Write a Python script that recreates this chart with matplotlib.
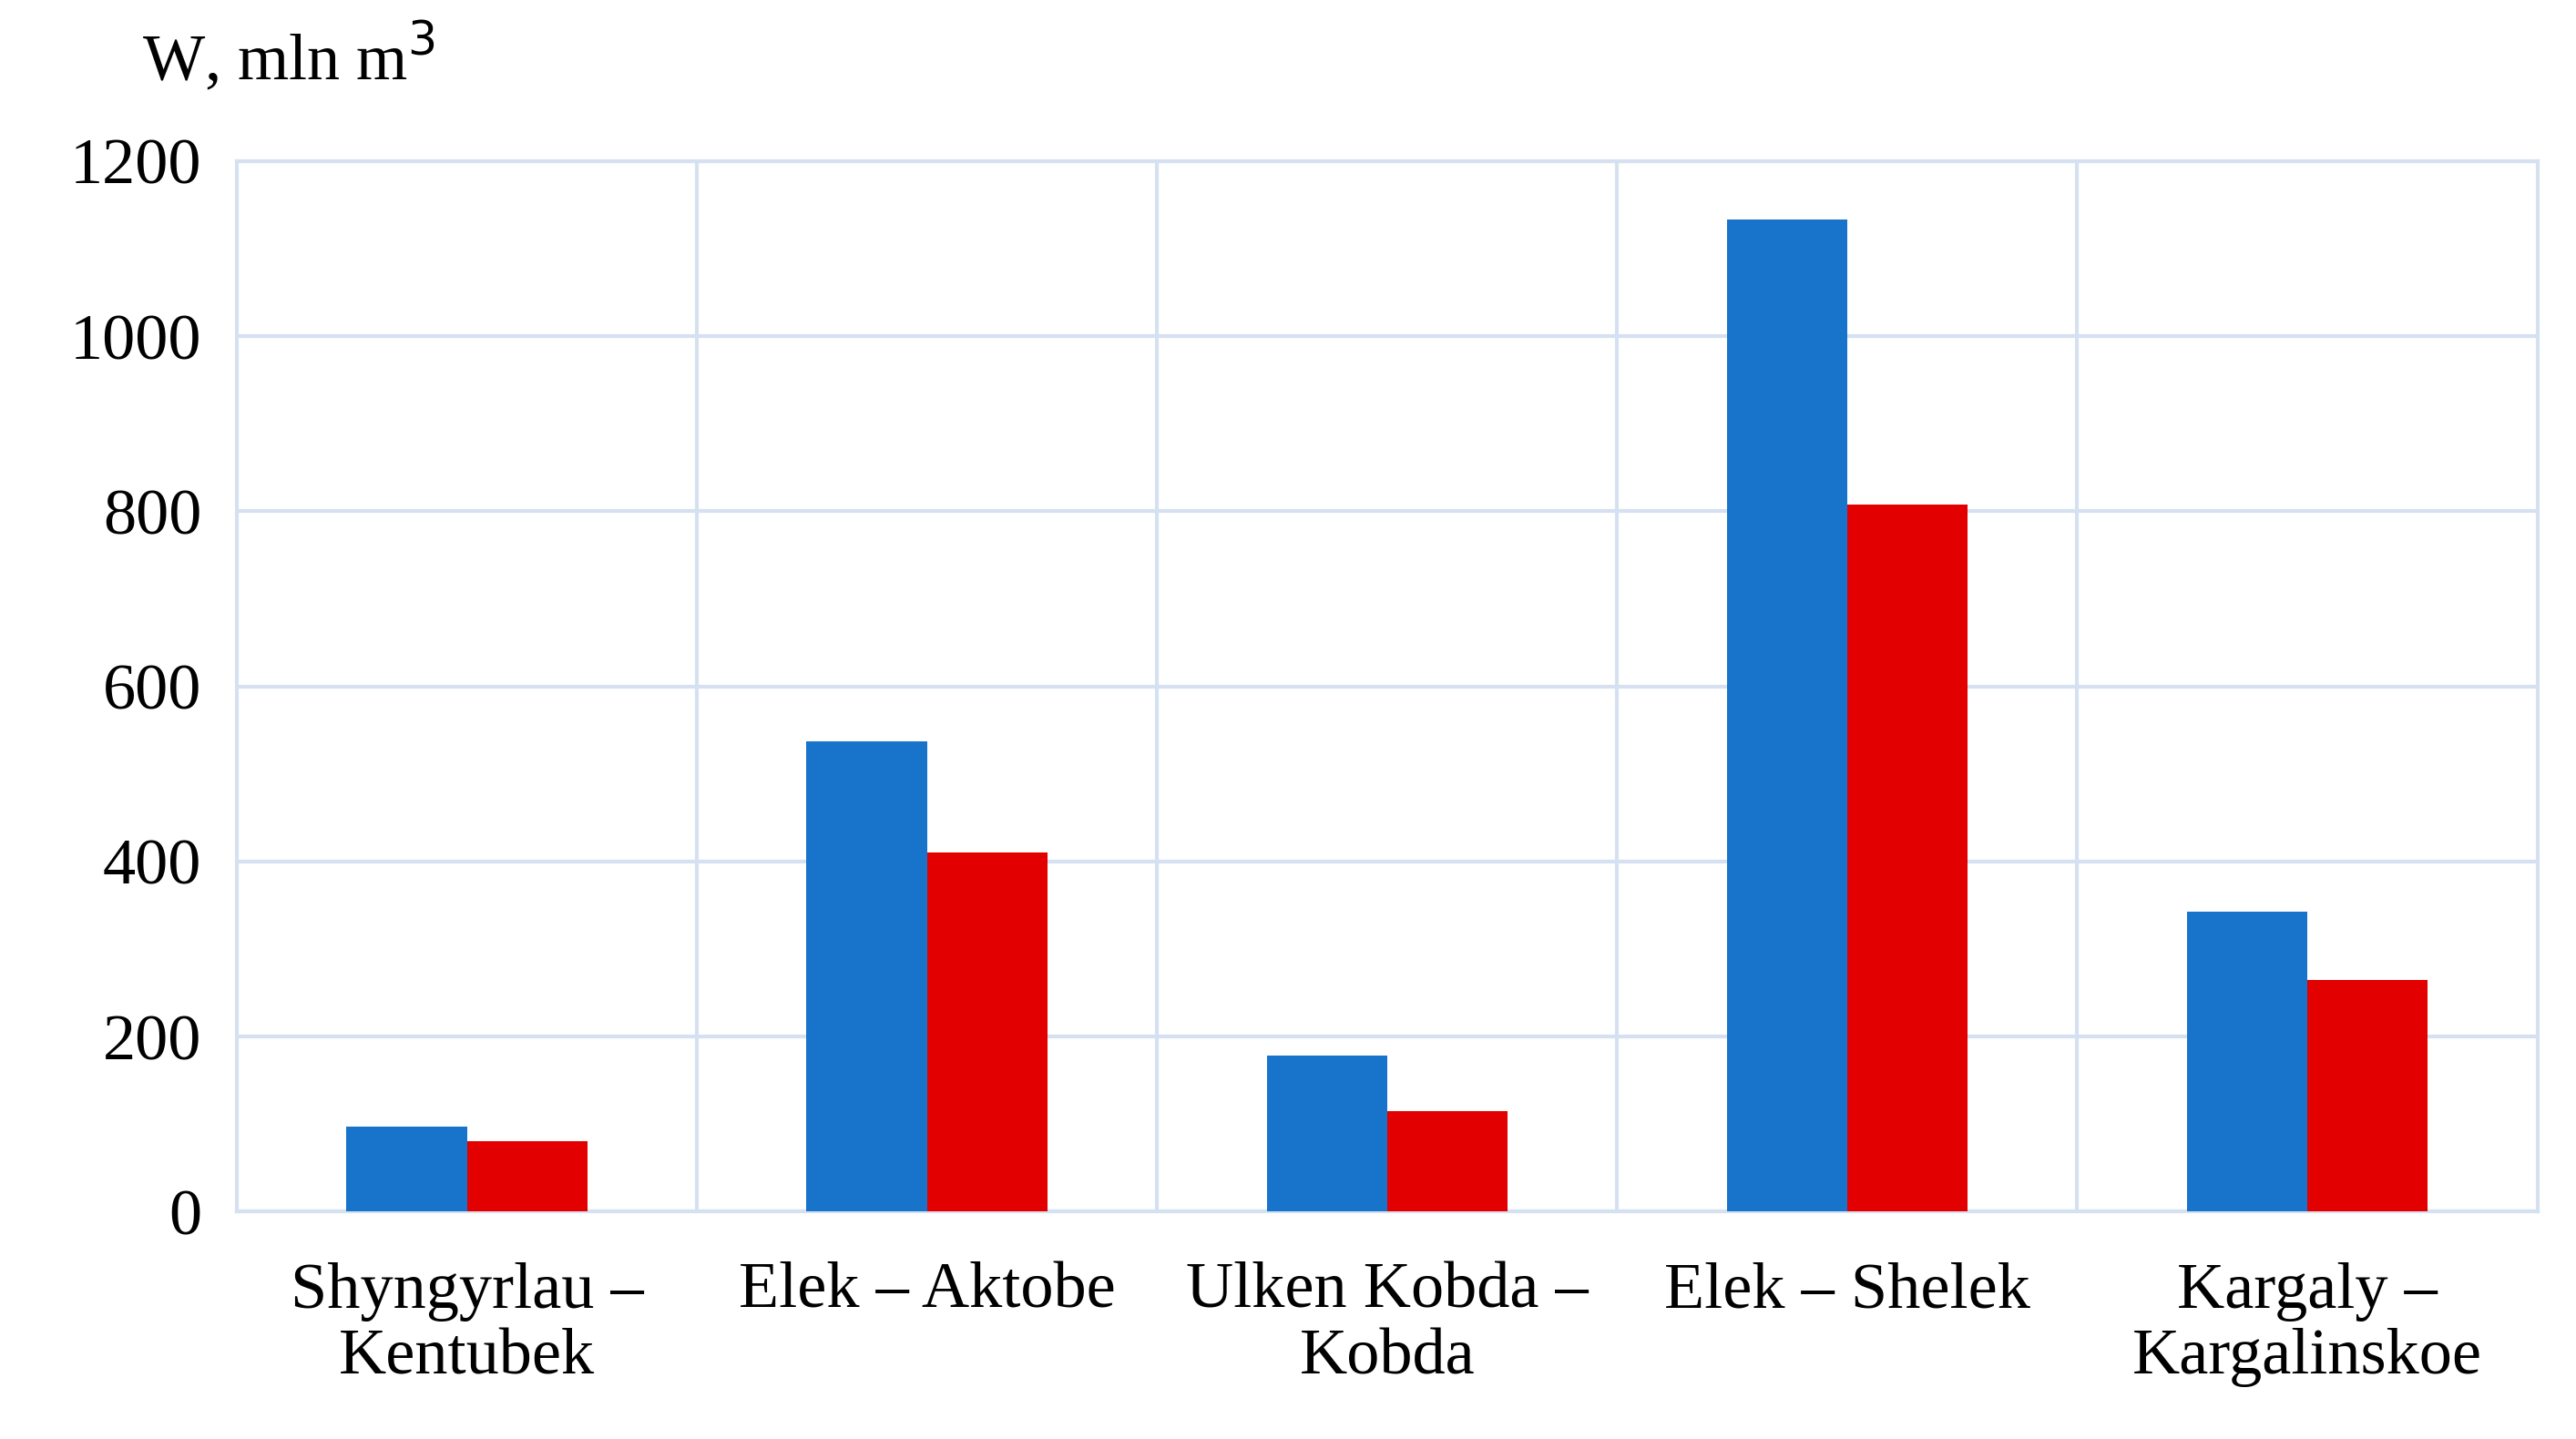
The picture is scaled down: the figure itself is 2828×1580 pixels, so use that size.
import matplotlib
matplotlib.use("Agg")
import matplotlib.pyplot as plt
import numpy as np

categories = ["Shyngyrlau –\nKentubek", "Elek – Aktobe", "Ulken Kobda –\nKobda",
              "Elek – Shelek", "Kargaly –\nKargalinskoe"]
blue_vals = [97, 537, 178, 1133, 343]
red_vals = [80, 410, 115, 808, 265]
yticks = [0, 200, 400, 600, 800, 1000, 1200]

plt.rcParams["font.family"] = ["Liberation Serif", "DejaVu Serif"]
fig = plt.figure(figsize=(28.28, 15.8), dpi=100)
ax = fig.add_axes([0.092, 0.158, 0.893, 0.73])

x = np.arange(len(categories))
w = 0.262
ax.bar(x - w / 2, blue_vals, w, color="#1874CA", zorder=3)
ax.bar(x + w / 2, red_vals, w, color="#E30000", zorder=3)

grid_c = "#D5E1F1"
ax.set_xlim(-0.5, len(categories) - 0.5)
ax.set_ylim(0, 1200)
ax.set_yticks(yticks)
ax.set_yticklabels([str(v) for v in yticks], fontsize=52)
ax.set_xticks(x)
ax.set_xticklabels(categories, fontsize=52, linespacing=1.15)
ax.tick_params(length=0, pad=40, axis="x")
ax.tick_params(length=0, pad=28, axis="y")
ax.yaxis.grid(True, color=grid_c, lw=3, zorder=0)
for b in np.arange(0.5, len(categories) - 1, 1):
    ax.axvline(b, color=grid_c, lw=3, zorder=0)
for s in ax.spines.values():
    s.set_color(grid_c)
    s.set_linewidth(3)

fig.text(0.055, 0.935, "W, mln m$^3$", fontsize=52, ha="left", va="bottom")

fig.savefig("out.png", dpi=100)
